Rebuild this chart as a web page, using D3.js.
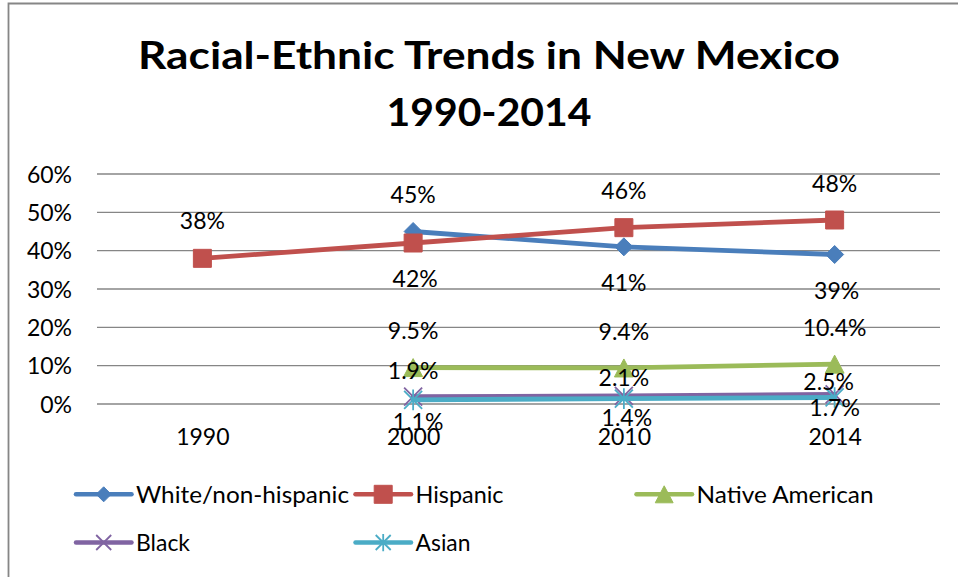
<!DOCTYPE html>
<html>
<head>
<meta charset="utf-8">
<script src="https://cdn.jsdelivr.net/npm/d3@7"></script>
<style>
  html, body { margin: 0; padding: 0; background: #fff; }
  svg { display: block; }
  text { font-family: Lato, "Open Sans", sans-serif; fill: #000; }
</style>
</head>
<body>
<svg id="chart" width="958" height="577"></svg>
<script>
// Census years shown on the x axis
const years = ["1990", "2000", "2010", "2014"];

// Share of population by group (null = not reported that year)
const white    = [null, 0.45, 0.41, 0.39];
const hispanic = [0.38, 0.42, 0.46, 0.48];
const native   = [null, 0.095, 0.094, 0.104];
const black    = [null, 0.019, 0.021, 0.025];
const asian    = [null, 0.011, 0.014, 0.017];

const seriesNames = ["White/non-hispanic", "Hispanic", "Native American", "Black", "Asian"];
const yTicks = [0, 0.1, 0.2, 0.3, 0.4, 0.5, 0.6];
const titleLines = ["Racial-Ethnic Trends in New Mexico", "1990-2014"];

// ---- presentation ----
const colors  = ["#4A7EBB", "#C0504D", "#9BBB59", "#8064A2", "#4BACC6"];
const markers = ["diamond", "square", "triangle", "x", "star"];
const formats = [d3.format(".0%"), d3.format(".0%"), d3.format(".1%"), d3.format(".1%"), d3.format(".1%")];

// hand-placed label nudges (baseline offset from point, horizontal shift)
const labelDy = [
  [0, -29, 44, 44],
  [-29, 44, -29, -28],
  [0, -29, -28, -28],
  [0, -18, -10, -4],
  [0, 30, 27, 19]
];
const labelDx = [
  [0, 0, 0, 2],
  [0, 2, 0, 0],
  [0, 0, 0, 0],
  [0, 0, 0, -6],
  [0, 5, 3, 0]
];
// legend entry text widths (narrow face)
const legendTextWidth = [213, 88, 177, 54, 55];

const values = [white, hispanic, native, black, asian];
const series = seriesNames.map((name, i) => ({
  name, color: colors[i], marker: markers[i], fmt: formats[i],
  points: years.map((yr, j) => ({ year: yr, value: values[i][j], j }))
             .filter(p => p.value !== null)
}));

const svg = d3.select("#chart");
svg.append("rect").attr("width", 958).attr("height", 577).attr("fill", "#fff");

// chart frame
svg.append("path")
  .attr("d", "M8.5,577 V3.5 H958")
  .attr("fill", "none").attr("stroke", "#868686").attr("stroke-width", 1.8);

// title
const titleG = svg.append("g").attr("text-anchor", "middle");
titleG.append("text").attr("x", 489).attr("y", 69)
  .attr("font-size", 38.5).attr("font-weight", 700)
  .attr("textLength", 702).attr("lengthAdjust", "spacingAndGlyphs")
  .text(titleLines[0]);
titleG.append("text").attr("x", 489).attr("y", 126)
  .attr("font-size", 38.5).attr("font-weight", 700)
  .attr("textLength", 205).attr("lengthAdjust", "spacingAndGlyphs")
  .text(titleLines[1]);

// scales
const x = d3.scalePoint().domain(years).range([97, 940]).padding(0.5);
const y = d3.scaleLinear().domain([0, 0.6]).range([404, 174]);

// gridlines
svg.append("g").selectAll("line").data(yTicks).join("line")
  .attr("x1", 97).attr("x2", 940)
  .attr("y1", d => y(d)).attr("y2", d => y(d))
  .attr("stroke", "#868686").attr("stroke-width", 1.3);

// y axis labels
const yAxis = d3.axisLeft(y).tickValues(yTicks).tickFormat(d3.format(".0%")).tickSize(0).tickPadding(0);
const yG = svg.append("g").attr("transform", "translate(72,0)").call(yAxis);
yG.select(".domain").remove();
yG.selectAll("text").attr("font-size", 23).attr("font-family", "Lato").attr("fill", "#000")
  .attr("dy", null).attr("dominant-baseline", "auto")
  .attr("y", 8.2);

// x axis labels
const xAxis = d3.axisBottom(x).tickSize(0).tickPadding(0);
const xG = svg.append("g").attr("transform", "translate(0,445)").call(xAxis);
xG.select(".domain").remove();
xG.selectAll("text").attr("font-size", 23).attr("font-family", "Lato").attr("fill", "#000")
  .attr("dy", null).attr("y", 0);

// marker shapes
function markerPath(type, s) {
  const h = s / 2;
  switch (type) {
    case "diamond": return `M0,${-h}L${h},0L0,${h}L${-h},0Z`;
    case "square": return `M${-h},${-h}H${h}V${h}H${-h}Z`;
    case "triangle": return `M0,${-h}L${h * 1.05},${h}L${-h * 1.05},${h}Z`;
    case "x": return `M${-h},${-h}L${h},${h}M${h},${-h}L${-h},${h}`;
    case "star": return `M${-h},${-h}L${h},${h}M${h},${-h}L${-h},${h}M0,${-h * 1.15}V${h * 1.15}`;
  }
}
function drawMarker(g, type, color, s) {
  const open = type === "x" || type === "star";
  g.append("path").attr("d", markerPath(type, s))
    .attr("fill", open ? "none" : color)
    .attr("stroke", color)
    .attr("stroke-width", open ? 1.8 : 1);
}

const line = d3.line().x(d => x(d.year)).y(d => y(d.value));
const markerSize = { diamond: 18, square: 18, triangle: 18, x: 18, star: 18 };

series.forEach(s => {
  const g = svg.append("g");
  g.append("path").datum(s.points).attr("d", line)
    .attr("fill", "none").attr("stroke", s.color).attr("stroke-width", 4.8)
    .attr("stroke-linejoin", "round").attr("stroke-linecap", "round");
  s.points.forEach(p => {
    const mg = g.append("g").attr("transform", `translate(${x(p.year)},${y(p.value)})`);
    drawMarker(mg, s.marker, s.color, markerSize[s.marker]);
  });
});

// data labels
series.forEach((s, i) => {
  svg.append("g").attr("text-anchor", "middle").selectAll("text").data(s.points).join("text")
    .attr("x", p => x(p.year) + labelDx[i][p.j])
    .attr("y", p => y(p.value) + labelDy[i][p.j])
    .attr("font-size", 23)
    .text(p => s.fmt(p.value));
});

// legend
const legendPos = [
  { x: 76, y: 494.3 }, { x: 355.5, y: 494.3 }, { x: 636.5, y: 494.3 },
  { x: 76, y: 542.5 }, { x: 355.5, y: 542.5 }
];
const legendMarkerSize = { diamond: 15, square: 18, triangle: 17, x: 15, star: 15 };
series.forEach((s, i) => {
  const p = legendPos[i];
  const g = svg.append("g").attr("transform", `translate(${p.x},${p.y})`);
  g.append("line").attr("x1", 0).attr("x2", 55.5)
    .attr("stroke", s.color).attr("stroke-width", 4.5).attr("stroke-linecap", "round");
  const mg = g.append("g").attr("transform", "translate(27.7,0)");
  drawMarker(mg, s.marker, s.color, legendMarkerSize[s.marker]);
  g.append("text").attr("x", 60).attr("y", 8.8).attr("font-size", 23.5)
    .attr("textLength", legendTextWidth[i]).attr("lengthAdjust", "spacingAndGlyphs")
    .text(s.name);
});
</script>
</body>
</html>
